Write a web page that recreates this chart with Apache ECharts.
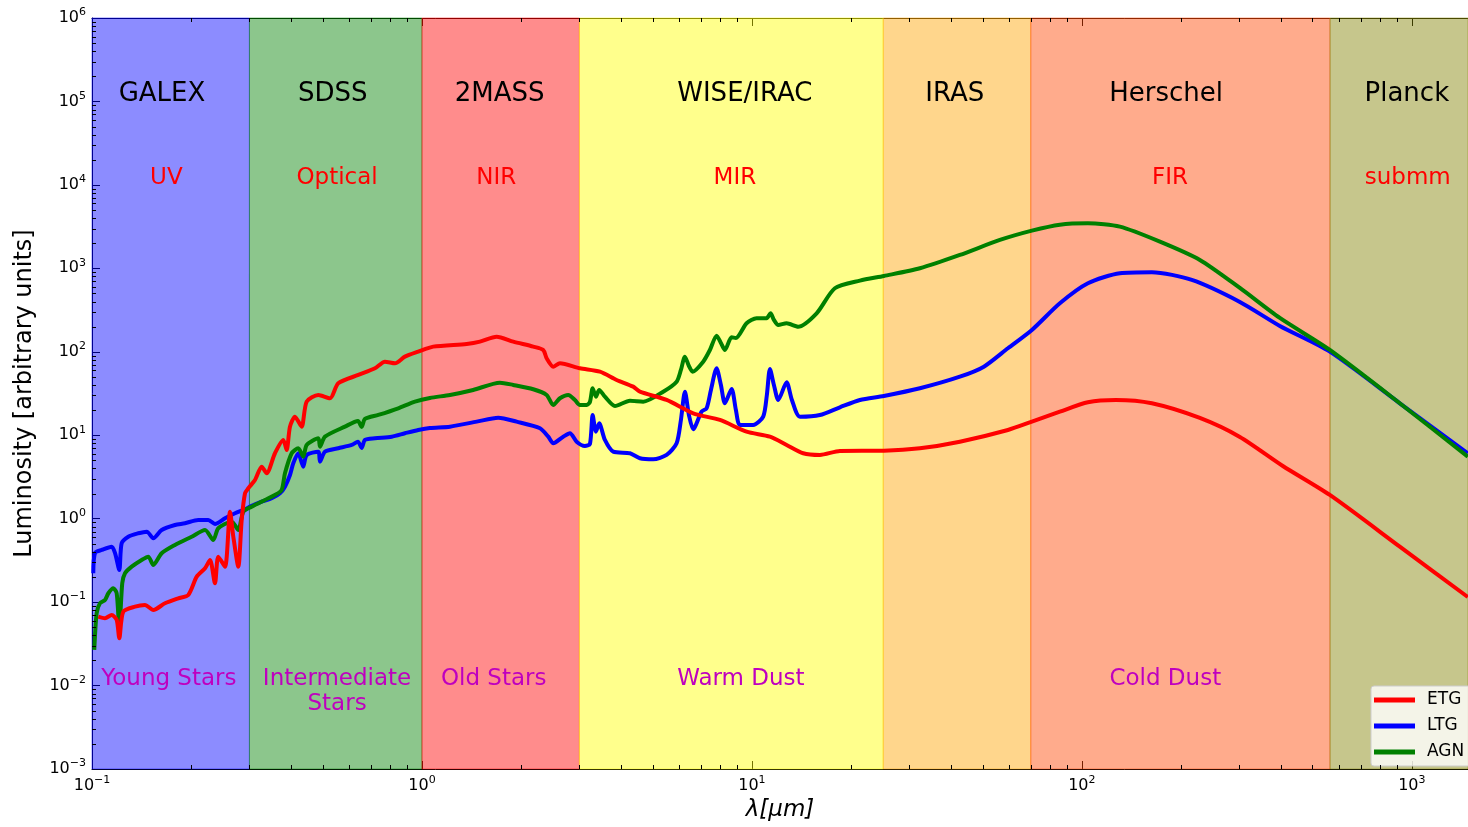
<!DOCTYPE html>
<html>
<head>
<meta charset="utf-8">
<title>Galaxy SED templates</title>
<script src="https://cdn.jsdelivr.net/npm/echarts@6.0.0/dist/echarts.min.js"></script>
<style>
  html, body { margin: 0; padding: 0; background: #ffffff; overflow: hidden; }
  #chart { width: 1468px; height: 827px; }
</style>
</head>
<body>
<div id="chart"></div>
<script>
// ---- Spectral energy distributions (wavelength in micron, luminosity in arbitrary units) ----
const etgWavelength = [
  0.1045, 0.1095, 0.1147, 0.1188, 0.1210, 0.1244, 0.1350, 0.1447, 0.1534, 0.1664,
  0.1826, 0.1958, 0.2077, 0.2201, 0.2279, 0.2359, 0.2414, 0.2530, 0.2620, 0.2681,
  0.2776, 0.2842, 0.2909, 0.2977, 0.3119, 0.3268, 0.3384, 0.3585, 0.3799, 0.3890,
  0.3981, 0.4122, 0.4318, 0.4473, 0.4851, 0.5262, 0.5576, 0.6412, 0.7205, 0.7724,
  0.8283, 0.8880, 0.9745, 1.082, 1.366, 1.499, 1.684, 1.891, 2.174, 2.331,
  2.387, 2.500, 2.619, 3.012, 3.462, 3.890, 4.368, 4.577, 5.514, 6.639,
  8.0, 9.636, 11.34, 12.74, 14.30, 16.07, 18.48, 25.12, 32.29, 42.69,
  59.69, 70.56, 85.77, 104.3, 126.8, 163.0, 227.8, 301.2, 406.5, 564.3,
  919.5, 1478
];
const etgLuminosity = [
  0.0669, 0.0640, 0.0701, 0.0611, 0.0369, 0.0768, 0.0882, 0.0924, 0.0805, 0.0968,
  0.1112, 0.1218, 0.2018, 0.2544, 0.3199, 0.1682, 0.3504, 0.2659, 1.213, 0.608,
  0.2659, 0.965, 2.016, 2.314, 2.910, 4.20, 3.50, 6.08, 8.77, 6.66,
  12.67, 16.69, 12.67, 25.25, 30.38, 27.73, 41.95, 52.75, 63.47, 76.13,
  72.84, 87.4, 100.3, 115.2, 124.1, 132.2, 151.8, 132.2, 115.2, 105.1,
  83.6, 66.32, 72.84, 63.47, 57.77, 45.95, 38.19, 33.27, 26.46, 18.33,
  15.24, 11.03, 9.61, 7.64, 6.08, 5.80, 6.48, 6.53, 6.98, 8.37,
  11.56, 14.54, 19.16, 24.83, 26.46, 24.15, 16.10, 9.53, 4.28, 1.923,
  0.462, 0.1152
];

const ltgWavelength = [
  0.1009, 0.1021, 0.1070, 0.1147, 0.1174, 0.1210, 0.1230, 0.1288, 0.1381, 0.1465,
  0.1534, 0.1626, 0.1784, 0.1913, 0.2099, 0.2252, 0.2359, 0.2530, 0.2713, 0.2909,
  0.3012, 0.3268, 0.3504, 0.3712, 0.3844, 0.3981, 0.4074, 0.4218, 0.4368, 0.4473,
  0.4851, 0.4909, 0.5083, 0.5576, 0.6123, 0.6398, 0.6565, 0.6718, 0.7205, 0.8096,
  0.8880, 0.9745, 1.057, 1.216, 1.465, 1.703, 1.936, 2.279, 2.414, 2.500,
  2.681, 2.809, 2.943, 3.118, 3.229, 3.291, 3.367, 3.445, 3.585, 3.799,
  4.269, 4.577, 5.022, 5.514, 5.913, 6.093, 6.266, 6.443, 6.639, 7.039,
  7.29, 7.513, 7.816, 8.055, 8.282, 8.678, 8.943, 9.197, 10.09, 10.82,
  11.10, 11.34, 11.66, 12.02, 12.74, 13.22, 13.98, 16.07, 18.48, 21.25,
  25.12, 32.29, 42.69, 50.47, 59.69, 70.56, 85.77, 104.3, 130.4, 163.0,
  215.4, 301.2, 398.1, 564.3, 919.5, 1478
];
const ltgLuminosity = [
  0.222, 0.388, 0.422, 0.462, 0.388, 0.243, 0.507, 0.608, 0.668, 0.699,
  0.582, 0.732, 0.840, 0.881, 0.965, 0.965, 0.864, 1.011, 1.161, 1.296,
  1.393, 1.599, 1.756, 2.016, 2.418, 3.34, 4.61, 6.08, 4.20, 5.80,
  6.35, 4.82, 6.35, 6.98, 7.64, 8.37, 7.04, 8.77, 9.19, 9.61,
  10.56, 11.56, 12.22, 12.67, 14.54, 16.24, 14.54, 12.12, 9.61, 8.01,
  9.61, 10.56, 8.37, 7.43, 7.86, 17.49, 11.03, 13.91, 8.77, 6.35,
  6.08, 5.30, 5.15, 5.80, 8.01, 15.24, 33.27, 17.49, 11.79, 19.16,
  21.04, 34.86, 63.47, 40.04, 24.15, 35.84, 20.08, 13.27, 13.27, 16.69,
  30.38, 62.25, 40.04, 26.46, 43.13, 26.46, 16.69, 17.49, 21.63, 26.46,
  29.55, 36.54, 50.33, 66.32, 110.2, 182.6, 381.5, 662.4, 873.1, 897.5,
  725.5, 395.5, 203.9, 100.3, 24.15, 6.08
];

const agnWavelength = [
  0.1016, 0.1033, 0.1057, 0.1095, 0.1121, 0.1160, 0.1188, 0.1210, 0.1235, 0.1259,
  0.1319, 0.1414, 0.1481, 0.1534, 0.1626, 0.1784, 0.2005, 0.2201, 0.2331, 0.2414,
  0.2651, 0.2776, 0.2874, 0.3047, 0.3343, 0.3585, 0.3756, 0.3844, 0.4029, 0.4218,
  0.4368, 0.4473, 0.4851, 0.4909, 0.5083, 0.5843, 0.6398, 0.6565, 0.6718, 0.7373,
  0.8477, 0.9524, 1.057, 1.216, 1.430, 1.723, 1.891, 2.174, 2.387, 2.500,
  2.619, 2.776, 2.908, 3.012, 3.156, 3.229, 3.291, 3.367, 3.445, 3.585,
  3.845, 4.269, 4.684, 5.385, 5.913, 6.093, 6.266, 6.443, 6.612, 7.118,
  7.459, 7.816, 8.055, 8.282, 8.678, 8.943, 9.636, 10.33, 11.08, 11.39,
  11.66, 12.02, 12.74, 13.81, 15.71, 17.84, 21.25, 25.12, 32.29, 42.69,
  56.43, 70.56, 85.77, 104.3, 130.4, 172.4, 227.8, 301.2, 398.1, 564.3,
  919.5, 1478
];
const agnLuminosity = [
  0.0267, 0.0735, 0.0968, 0.1061, 0.1276, 0.1465, 0.1276, 0.0486, 0.1682, 0.2216,
  0.2659, 0.3199, 0.3504, 0.2787, 0.3848, 0.4840, 0.608, 0.732, 0.5555, 0.767,
  0.921, 0.732, 1.213, 1.393, 1.675, 1.923, 2.208, 3.50, 6.08, 6.98,
  5.53, 7.64, 9.19, 7.29, 9.61, 12.67, 14.82, 12.56, 15.66, 17.49,
  21.04, 25.25, 27.96, 30.38, 34.86, 42.65, 40.04, 35.54, 30.38, 23.05,
  27.73, 30.38, 26.46, 23.05, 23.05, 25.04, 36.54, 28.99, 34.86, 28.99,
  22.42, 25.95, 25.25, 33.27, 43.85, 60.55, 87.4, 67.6, 57.77, 76.13,
  105.1, 156.1, 127.6, 105.1, 149.3, 146.4, 219.7, 252.2, 252.2, 289.4,
  240.6, 209.6, 219.7, 200.0, 289.4, 577.1, 711.8, 810.4, 1002, 1446,
  2188, 2829, 3338, 3470, 3158, 2088, 1260, 582, 254.3, 105.1,
  24.15, 5.53
];

// ---- Survey bands: edges in micron ----
const bandEdges = [0.1, 0.3, 1, 3, 25, 70, 565, 1480];
const bandNames = ['GALEX', 'SDSS', '2MASS', 'WISE/IRAC', 'IRAS', 'Herschel', 'Planck'];
const bandNameWavelength = [0.163, 0.537, 1.72, 9.52, 41.2, 180, 966];
const regionNames = ['UV', 'Optical', 'NIR', 'MIR', 'FIR', 'submm'];
const regionWavelength = [0.168, 0.553, 1.68, 8.88, 185, 972];
const sourceNames = ['Young Stars', 'Intermediate\nStars', 'Old Stars', 'Warm Dust', 'Cold Dust'];
const sourceWavelength = [0.171, 0.553, 1.65, 9.26, 179];
// Luminosity level of each label row
const bandNameLevel = 1.22e5;
const regionLevel = 1.2e4;
const sourceLevel = 0.0170;

// ---- Axis ranges ----
const xMin = 0.1, xMax = 1480;
const yMin = 1e-3, yMax = 1e6;

const FONT = 'DejaVu Sans';
const bandColors = [
  'rgba(0,0,255,0.45)', 'rgba(0,128,0,0.45)', 'rgba(255,0,0,0.45)', 'rgba(255,255,0,0.45)',
  'rgba(255,165,0,0.45)', 'rgba(255,69,0,0.45)', 'rgba(128,128,0,0.45)'
];
const labelGroups = [
  { names: bandNames, waves: bandNameWavelength, level: bandNameLevel, size: 26, color: '#000000', va: 'middle' },
  { names: regionNames, waves: regionWavelength, level: regionLevel, size: 23, color: '#ff0000', va: 'middle' },
  { names: sourceNames, waves: sourceWavelength, level: sourceLevel, size: 23, color: '#bf00bf', va: 'top' }
];
const labelData = [];
labelGroups.forEach((g, gi) => g.names.forEach((n, i) => labelData.push([g.waves[i], g.level, gi, i])));

function zip(xs, ys) { return xs.map((x, i) => [x, ys[i]]); }

function powerLabel(v) {
  const lg = Math.log10(v);
  const e = Math.round(lg);
  if (Math.abs(lg - e) > 1e-6) return '';
  return '{b|10}{s|' + (e < 0 ? '\u2212' + (-e) : String(e)) + '}';
}
const tickRich = {
  b: { fontSize: 16, fontFamily: FONT, color: '#000', lineHeight: 22 },
  s: { fontSize: 11, fontFamily: FONT, color: '#000', verticalAlign: 'top', lineHeight: 13 }
};

// Minor log ticks (2..9 x 10^k) along the frame
const minorTicks = [];
for (let k = -1; k <= 3; k++) {
  for (let m = 2; m <= 9; m++) {
    const v = m * Math.pow(10, k);
    if (v < xMax) minorTicks.push([v, yMin, 0]);
  }
}
for (let k = -3; k <= 5; k++) {
  for (let m = 2; m <= 9; m++) minorTicks.push([xMin, m * Math.pow(10, k), 1]);
}

const lineBase = {
  type: 'line', showSymbol: false, symbol: 'none', smooth: 0.25,
  emphasis: { disabled: true }, silent: true
};

const chart = echarts.init(document.getElementById('chart'), null, { renderer: 'canvas' });
chart.setOption({
  animation: false,
  backgroundColor: '#ffffff',
  grid: { left: 92, right: 0, top: 18, bottom: 58, containLabel: false, outerBoundsMode: 'none' },
  legend: {
    data: ['ETG', 'LTG', 'AGN'], orient: 'vertical', left: 1371, top: 686,
    icon: 'rect', itemWidth: 41, itemHeight: 5, itemGap: 6,
    padding: [4, 12, 4, 3], backgroundColor: 'rgba(255,255,255,0.8)',
    borderColor: '#cccccc', borderWidth: 1, borderRadius: 3, selectedMode: false,
    textStyle: { fontSize: 17, fontFamily: FONT, color: '#000', lineHeight: 20, padding: [0, 0, 0, 7] }
  },
  xAxis: [{
    type: 'log', logBase: 10, min: xMin, max: xMax, splitNumber: 5,
    axisLine: { show: true, onZero: false, lineStyle: { color: '#000', width: 1 } },
    axisTick: { show: true, inside: true, length: 8, lineStyle: { color: '#000' } },
    axisLabel: { formatter: powerLabel, rich: tickRich, margin: 6, interval: 0 },
    splitLine: { show: false },
    name: '\u03bb[\u03bcm]', nameLocation: 'middle', nameGap: 26,
    nameTextStyle: { fontSize: 23, fontStyle: 'italic', fontFamily: FONT, color: '#000' }
  }, {
    type: 'log', logBase: 10, min: xMin, max: xMax, splitNumber: 5, position: 'top',
    axisLine: { show: true, onZero: false, lineStyle: { color: '#000', width: 1 } },
    axisTick: { show: true, inside: true, length: 8, lineStyle: { color: '#000' } },
    axisLabel: { show: false }, splitLine: { show: false }
  }],
  yAxis: {
    type: 'log', logBase: 10, min: yMin, max: yMax, splitNumber: 10,
    axisLine: { show: true, onZero: false, lineStyle: { color: '#000', width: 1 } },
    axisTick: { show: true, inside: true, length: 8, lineStyle: { color: '#000' } },
    axisLabel: { formatter: powerLabel, rich: tickRich, margin: 6, interval: 0 },
    splitLine: { show: false },
    name: 'Luminosity [arbitrary units]', nameLocation: 'middle', nameGap: 55,
    nameTextStyle: { fontSize: 24, fontFamily: FONT, color: '#000' }
  },
  series: [
    {
      type: 'line', name: 'bands', data: [], silent: true, z: 1,
      markArea: {
        silent: true,
        data: bandNames.map((n, i) => [
          { xAxis: bandEdges[i], itemStyle: { color: bandColors[i], borderColor: bandColors[i], borderWidth: 1 } },
          { xAxis: bandEdges[i + 1] }
        ])
      }
    },
    Object.assign({}, lineBase, { name: 'LTG', z: 3, data: zip(ltgWavelength, ltgLuminosity),
      lineStyle: { color: '#0000ff', width: 4, join: 'round' }, itemStyle: { color: '#0000ff' } }),
    Object.assign({}, lineBase, { name: 'AGN', z: 4, data: zip(agnWavelength, agnLuminosity),
      lineStyle: { color: '#008000', width: 4, join: 'round' }, itemStyle: { color: '#008000' } }),
    Object.assign({}, lineBase, { name: 'ETG', z: 5, data: zip(etgWavelength, etgLuminosity),
      lineStyle: { color: '#ff0000', width: 4, join: 'round' }, itemStyle: { color: '#ff0000' } }),
    {
      // band, region and emission-source captions
      type: 'custom', name: 'captions', silent: true, z: 8, clip: false,
      data: labelData, encode: { x: 0, y: 1 },
      renderItem: function (params, api) {
        const g = labelGroups[api.value(2)];
        const p = api.coord([api.value(0), api.value(1)]);
        return {
          type: 'text', x: p[0], y: p[1],
          style: {
            text: g.names[api.value(3)], fill: g.color, fontSize: g.size, fontFamily: FONT,
            align: 'center', verticalAlign: g.va, lineHeight: Math.round(g.size * 1.1)
          }
        };
      }
    },
    {
      type: 'custom', name: 'minorTicks', silent: true, z: 10, clip: false,
      data: minorTicks, encode: { x: 0, y: 1 },
      renderItem: function (params, api) {
        const cs = params.coordSys;
        const p = api.coord([api.value(0), api.value(1)]);
        const st = { stroke: '#000', lineWidth: 1 };
        if (api.value(2) === 0) {
          const x = Math.round(p[0]) + 0.5;
          return { type: 'group', children: [
            { type: 'line', shape: { x1: x, y1: cs.y + cs.height, x2: x, y2: cs.y + cs.height - 4 }, style: st },
            { type: 'line', shape: { x1: x, y1: cs.y, x2: x, y2: cs.y + 4 }, style: st }
          ] };
        }
        const y = Math.round(p[1]) + 0.5;
        return { type: 'line', shape: { x1: cs.x, y1: y, x2: cs.x + 4, y2: y }, style: st };
      }
    }
  ]
});
</script>
</body>
</html>
